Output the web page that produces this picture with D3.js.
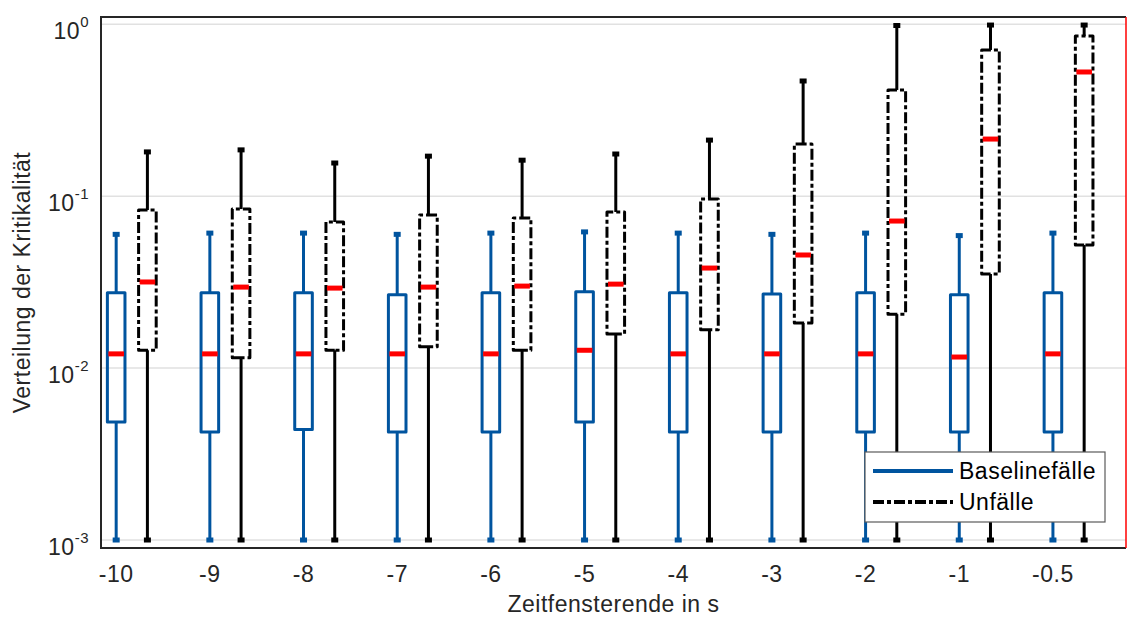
<!DOCTYPE html>
<html>
<head>
<meta charset="utf-8">
<script src="https://cdn.jsdelivr.net/npm/d3@7"></script>
<style>
  html, body { margin: 0; padding: 0; background: #fff; }
  svg { display: block; }
  text { font-family: "Liberation Sans", Arial, Helvetica, sans-serif; fill: #262626; letter-spacing: 0.5px; }
</style>
</head>
<body>
<svg id="chart" width="1127" height="617"></svg>
<script>
// Zeitfensterende (end of time window, s)
const categories = ["-10", "-9", "-8", "-7", "-6", "-5", "-4", "-3", "-2", "-1", "-0.5"];

// Baselinefälle: whisker ends, quartiles and median
const baseWhiskerHigh = [0.060, 0.061, 0.061, 0.060, 0.061, 0.062, 0.061, 0.060, 0.061, 0.059, 0.061];
const baseQ3          = [0.0274, 0.0274, 0.0274, 0.0267, 0.0274, 0.0278, 0.0274, 0.0270, 0.0274, 0.0267, 0.0274];
const baseMedian      = [0.0121, 0.0121, 0.0121, 0.0121, 0.0121, 0.0127, 0.0121, 0.0121, 0.0121, 0.0116, 0.0121];
const baseQ1          = [0.00486, 0.00425, 0.00440, 0.00425, 0.00425, 0.00486, 0.00425, 0.00425, 0.00425, 0.00425, 0.00425];
const baseWhiskerLow  = [0.001, 0.001, 0.001, 0.001, 0.001, 0.001, 0.001, 0.001, 0.001, 0.001, 0.001];

// Unfälle: whisker ends, quartiles and median
const accWhiskerHigh = [0.181, 0.186, 0.156, 0.171, 0.162, 0.176, 0.212, 0.468, 0.984, 0.99, 0.99];
const accQ3          = [0.0831, 0.0842, 0.0708, 0.0777, 0.0747, 0.0809, 0.0963, 0.201, 0.415, 0.709, 0.855];
const accMedian      = [0.0317, 0.0296, 0.0292, 0.0296, 0.0300, 0.0308, 0.0382, 0.0455, 0.0717, 0.215, 0.528];
const accQ1          = [0.0127, 0.0115, 0.0127, 0.0133, 0.0127, 0.0158, 0.0167, 0.0183, 0.0206, 0.0353, 0.052];
const accWhiskerLow  = [0.001, 0.001, 0.001, 0.001, 0.001, 0.001, 0.001, 0.001, 0.001, 0.001, 0.001];

const yTickValues = [1, 0.1, 0.01, 0.001];
const seriesNames = ["Baselinefälle", "Unfälle"];

const BLUE = "#00549F";
const BLACK = "#000000";
const RED = "#FF0000";
const FONT = "23px";

const svg = d3.select("#chart");
const plot = { left: 101, right: 1126, top: 17, bottom: 548 };

// Box positions: baseline boxes at 1..11, accident boxes shifted by a third
const x = d3.scaleLinear().domain([0.838, 11.78]).range([plot.left, plot.right]);
const y = d3.scaleLog().domain([Math.pow(10, 0.0425), Math.pow(10, -3.0465)]).range([plot.top, plot.bottom]);

// horizontal grid lines at each decade
svg.append("g")
  .selectAll("line")
  .data(yTickValues)
  .join("line")
  .attr("x1", plot.left).attr("x2", plot.right)
  .attr("y1", d => y(d)).attr("y2", d => y(d))
  .attr("stroke", "#e1e1e1").attr("stroke-width", 1.5);

const boxHalf = 8.8;
const capW = 7, capH = 5;

function drawSeries(offset, hi, q3, med, q1, lo, color, dash) {
  const g = svg.append("g");
  const rows = categories.map((c, i) => ({ i, pos: i + 1 + offset, hi: hi[i], q3: q3[i], med: med[i], q1: q1[i], lo: lo[i] }));
  const grp = g.selectAll("g").data(rows).join("g");

  // whiskers
  grp.append("line")
    .attr("x1", d => x(d.pos)).attr("x2", d => x(d.pos))
    .attr("y1", d => y(d.hi)).attr("y2", d => y(d.q3))
    .attr("stroke", color).attr("stroke-width", 3);
  grp.append("line")
    .attr("x1", d => x(d.pos)).attr("x2", d => x(d.pos))
    .attr("y1", d => y(d.q1)).attr("y2", d => y(d.lo))
    .attr("stroke", color).attr("stroke-width", 3);

  // whisker caps
  grp.append("rect")
    .attr("x", d => x(d.pos) - capW / 2).attr("y", d => y(d.hi) - capH / 2)
    .attr("width", capW).attr("height", capH).attr("fill", color);
  grp.append("rect")
    .attr("x", d => x(d.pos) - capW / 2).attr("y", d => y(d.lo) - capH / 2)
    .attr("width", capW).attr("height", capH).attr("fill", color);

  // box outline
  grp.append("path")
    .attr("d", d => {
      const x0 = x(d.pos) - boxHalf, x1 = x(d.pos) + boxHalf;
      const yt = y(d.q3), yb = y(d.q1);
      return `M${x(d.pos)},${yb} L${x0},${yb} L${x0},${yt} L${x1},${yt} L${x1},${yb} Z`;
    })
    .attr("fill", "none")
    .attr("stroke", color).attr("stroke-width", 3)
    .attr("stroke-linejoin", "round")
    .attr("stroke-dasharray", dash);

  // median
  grp.append("line")
    .attr("x1", d => x(d.pos) - boxHalf + 1).attr("x2", d => x(d.pos) + boxHalf - 1)
    .attr("y1", d => y(d.med)).attr("y2", d => y(d.med))
    .attr("stroke", RED).attr("stroke-width", 5);
}

drawSeries(0, baseWhiskerHigh, baseQ3, baseMedian, baseQ1, baseWhiskerLow, BLUE, null);
drawSeries(1 / 3, accWhiskerHigh, accQ3, accMedian, accQ1, accWhiskerLow, BLACK, "11,3,4,3");

// axes frame
svg.append("path")
  .attr("d", `M${plot.right},${plot.top} L${plot.left},${plot.top} L${plot.left},${plot.bottom} L${plot.right},${plot.bottom}`)
  .attr("fill", "none").attr("stroke", "#262626").attr("stroke-width", 2);

// y tick labels as powers of ten
const yLab = svg.append("g").selectAll("text").data(yTickValues).join("text")
  .attr("x", 89).attr("y", d => y(d) + 15)
  .attr("text-anchor", "end")
  .style("font-size", FONT);
yLab.append("tspan").text("10");
yLab.append("tspan")
  .attr("dy", -12)
  .style("font-size", "15px")
  .text(d => String(Math.round(Math.log10(d))));

// x tick labels
svg.append("g").selectAll("text").data(categories).join("text")
  .attr("x", (d, i) => x(i + 1)).attr("y", 582)
  .attr("text-anchor", "middle")
  .style("font-size", FONT)
  .text(d => d);

// axis titles
svg.append("text")
  .attr("x", (plot.left + plot.right) / 2).attr("y", 612)
  .attr("text-anchor", "middle")
  .style("font-size", FONT)
  .text("Zeitfensterende in s");

svg.append("text")
  .attr("transform", `translate(30,${(plot.top + plot.bottom) / 2}) rotate(-90)`)
  .attr("text-anchor", "middle")
  .style("font-size", FONT)
  .text("Verteilung der Kritikalität");

// legend
const lg = svg.append("g").attr("transform", "translate(865,452)");
lg.append("rect").attr("width", 240).attr("height", 70)
  .attr("fill", "#fff").attr("stroke", "#5a5a5a").attr("stroke-width", 1.2);
const legendItems = [
  { name: seriesNames[0], color: BLUE, dash: null },
  { name: seriesNames[1], color: BLACK, dash: "11,3,4,3" }
];
const li = lg.selectAll("g.item").data(legendItems).join("g")
  .attr("class", "item")
  .attr("transform", (d, i) => `translate(0,${19 + i * 31})`);
li.append("line")
  .attr("x1", 8).attr("x2", 88)
  .attr("stroke", d => d.color).attr("stroke-width", 4)
  .attr("stroke-dasharray", d => d.dash);
li.append("text")
  .attr("x", 94).attr("y", 8)
  .style("font-size", FONT)
  .style("fill", "#000")
  .text(d => d.name);

// right edge marker
svg.append("line")
  .attr("x1", 1126).attr("x2", 1126)
  .attr("y1", plot.top).attr("y2", plot.bottom)
  .attr("stroke", RED).attr("stroke-width", 1.5);
</script>
</body>
</html>
